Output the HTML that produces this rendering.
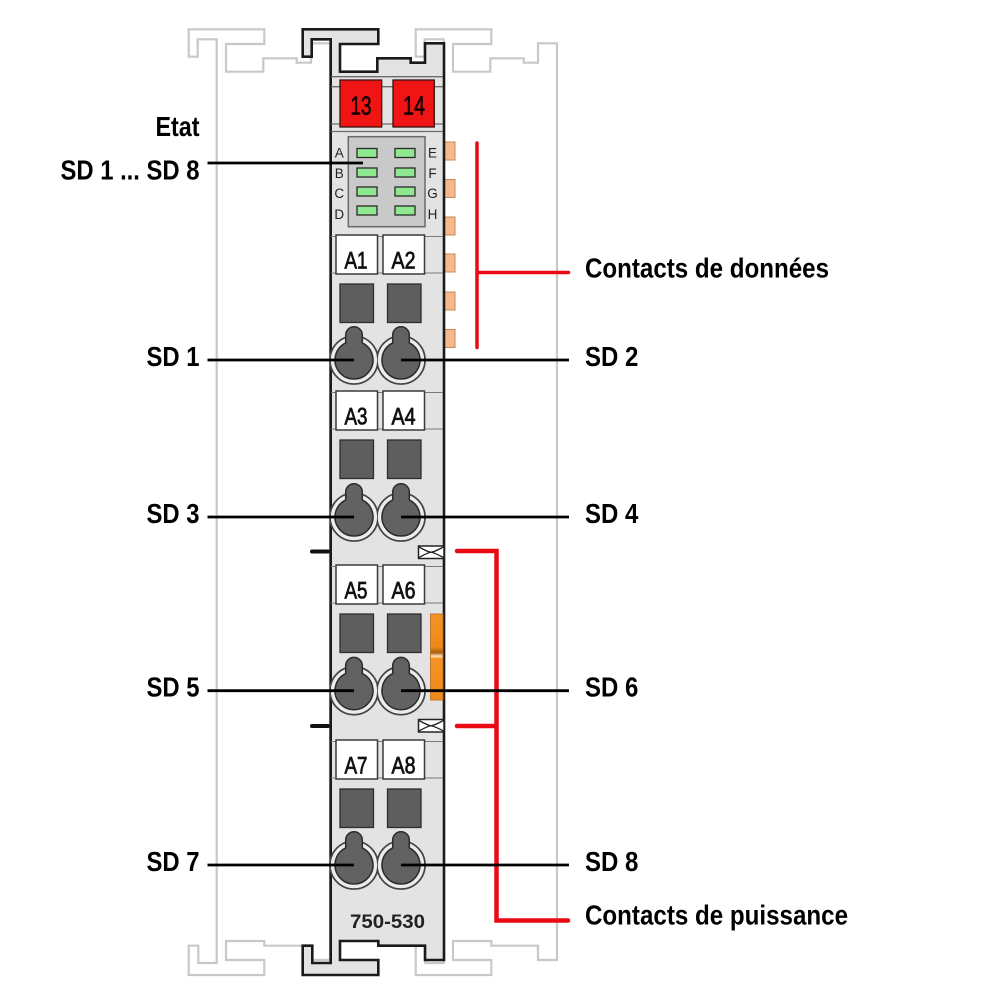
<!DOCTYPE html>
<html><head><meta charset="utf-8">
<style>html,body{margin:0;padding:0;background:#fff}svg{display:block}</style>
</head>
<body>
<svg width="1004" height="1004" viewBox="0 0 1004 1004" xmlns="http://www.w3.org/2000/svg">
<defs>
<path id="mod" d="M330.7,39.3 L311.7,39.3 L311.7,56.7 L302.7,56.7 L302.7,29.3 L378.3,29.3 L378.3,44 L340,44 L340,71.7 L377.3,71.7 L377.3,58.3 L410.7,58.3 L410.7,62.7 L425,62.7 L425,43.3 L444,43.3 L444,960 L425,960 L425,945.7 L378.3,945.7 L378.3,941 L340,941 L340,960 L378.3,960 L378.3,975 L302.7,975 L302.7,945.7 L312.3,945.7 L312.3,963 L330.7,963 Z"/>
<linearGradient id="og" x1="0" y1="0" x2="0" y2="1">
<stop offset="0" stop-color="#f39325"/>
<stop offset="0.38" stop-color="#ee8a1c"/>
<stop offset="0.45" stop-color="#a8600f"/>
<stop offset="0.49" stop-color="#fbe0b8"/>
<stop offset="0.52" stop-color="#f39325"/>
<stop offset="1" stop-color="#f08a1a"/>
</linearGradient>
</defs>

<!-- ghost neighbours -->
<use href="#mod" transform="translate(-114,0)" fill="none" stroke="#c8c8c8" stroke-width="2.2"/>
<use href="#mod" transform="translate(113,0)" fill="none" stroke="#c8c8c8" stroke-width="2.2"/>

<!-- data contact pads -->
<g fill="#f7b98c" stroke="#c58a5c" stroke-width="1">
<rect x="444.5" y="142" width="10.5" height="18"/>
<rect x="444.5" y="179.5" width="10.5" height="18"/>
<rect x="444.5" y="217" width="10.5" height="18"/>
<rect x="444.5" y="254" width="10.5" height="18"/>
<rect x="444.5" y="292" width="10.5" height="18"/>
<rect x="444.5" y="329.5" width="10.5" height="18"/>
</g>

<!-- module body -->
<use href="#mod" fill="#e3e3e3" stroke="#1a1a1a" stroke-width="2.6" stroke-linejoin="miter"/>

<!-- top terminal area lines -->
<g stroke="#6a6a6a" stroke-width="1.3">
<line x1="331" y1="76.7" x2="443" y2="76.7"/>
<line x1="331" y1="86.7" x2="443" y2="86.7"/>
<line x1="331" y1="124" x2="443" y2="124"/>
<line x1="331" y1="131.5" x2="443" y2="131.5"/>
</g>
<g fill="#f01414" stroke="#3a1010" stroke-width="1.3">
<rect x="340" y="80" width="41.7" height="47"/>
<rect x="393" y="80" width="41.3" height="47"/>
</g>
<g font-family="'Liberation Sans', sans-serif" font-size="26" fill="#1a0000" stroke="#1a0000" stroke-width="0.7" text-anchor="middle">
<text x="361" y="114.5" textLength="21" lengthAdjust="spacingAndGlyphs">13</text>
<text x="414" y="114.5" textLength="22" lengthAdjust="spacingAndGlyphs">14</text>
</g>

<!-- LED panel -->
<rect x="348.3" y="136.7" width="76.7" height="90" fill="#c9c9c9" stroke="#6a6a6a" stroke-width="1.5"/>
<g fill="#8fe88f" stroke="#2a2a2a" stroke-width="1.3">
<rect x="357" y="148.5" width="20" height="9"/>
<rect x="395" y="148.5" width="20" height="9"/>
<rect x="357" y="168" width="20" height="9"/>
<rect x="395" y="168" width="20" height="9"/>
<rect x="357" y="187" width="20" height="9"/>
<rect x="395" y="187" width="20" height="9"/>
<rect x="357" y="206" width="20" height="9"/>
<rect x="395" y="206" width="20" height="9"/>
</g>
<g font-family="'Liberation Sans', sans-serif" font-size="13.5" fill="#222" text-anchor="middle">
<text x="339.3" y="157.5">A</text>
<text x="339.3" y="178">B</text>
<text x="339.3" y="198">C</text>
<text x="339.3" y="219">D</text>
<text x="432.5" y="157.5">E</text>
<text x="432.5" y="178">F</text>
<text x="432.5" y="198">G</text>
<text x="432.5" y="219">H</text>
</g>

<!-- row separator lines -->
<g stroke="#7a7a7a" stroke-width="1.1">
<line x1="331" y1="236.5" x2="443" y2="236.5"/><line x1="331" y1="273" x2="443" y2="273"/>
<line x1="331" y1="392.5" x2="443" y2="392.5"/><line x1="331" y1="429" x2="443" y2="429"/>
<line x1="331" y1="566.5" x2="443" y2="566.5"/><line x1="331" y1="603" x2="443" y2="603"/>
<line x1="331" y1="741.5" x2="443" y2="741.5"/><line x1="331" y1="778" x2="443" y2="778"/>
</g>

<!-- label boxes -->
<g fill="#ffffff" stroke="#3a3a3a" stroke-width="1.5">
<rect x="336" y="235" width="41.5" height="39"/><rect x="383" y="235" width="41.5" height="39"/>
<rect x="336" y="391" width="41.5" height="39"/><rect x="383" y="391" width="41.5" height="39"/>
<rect x="336" y="565" width="41.5" height="39"/><rect x="383" y="565" width="41.5" height="39"/>
<rect x="336" y="740" width="41.5" height="39"/><rect x="383" y="740" width="41.5" height="39"/>
</g>
<g font-family="'Liberation Sans', sans-serif" font-size="24" fill="#111" text-anchor="middle" stroke="#111" stroke-width="0.8">
<text x="356" y="268.5" textLength="23" lengthAdjust="spacingAndGlyphs">A1</text>
<text x="403.5" y="268.5" textLength="24" lengthAdjust="spacingAndGlyphs">A2</text>
<text x="356" y="424.5" textLength="23" lengthAdjust="spacingAndGlyphs">A3</text>
<text x="403.5" y="424.5" textLength="24" lengthAdjust="spacingAndGlyphs">A4</text>
<text x="356" y="598.5" textLength="23" lengthAdjust="spacingAndGlyphs">A5</text>
<text x="403.5" y="598.5" textLength="24" lengthAdjust="spacingAndGlyphs">A6</text>
<text x="356" y="773.5" textLength="23" lengthAdjust="spacingAndGlyphs">A7</text>
<text x="403.5" y="773.5" textLength="24" lengthAdjust="spacingAndGlyphs">A8</text>
</g>

<!-- dark squares -->
<g fill="#5e5e5e" stroke="#2e2e2e" stroke-width="1.3">
<rect x="340" y="284" width="33.5" height="38.5"/><rect x="387.5" y="284" width="33.5" height="38.5"/>
<rect x="340" y="440" width="33.5" height="38.5"/><rect x="387.5" y="440" width="33.5" height="38.5"/>
<rect x="340" y="614" width="33.5" height="38.5"/><rect x="387.5" y="614" width="33.5" height="38.5"/>
<rect x="340" y="789" width="33.5" height="38.5"/><rect x="387.5" y="789" width="33.5" height="38.5"/>
</g>

<!-- rings -->
<g stroke="#444" stroke-width="1.8" fill="#ececec">
<circle cx="354" cy="360" r="24"/><circle cx="401" cy="360" r="24"/>
<circle cx="354" cy="517" r="24"/><circle cx="401" cy="517" r="24"/>
<circle cx="354" cy="690.7" r="24"/><circle cx="401" cy="690.7" r="24"/>
<circle cx="354" cy="865" r="24"/><circle cx="401" cy="865" r="24"/>
</g>
<g fill="#ececec">
<circle cx="354" cy="360" r="23.1"/><circle cx="401" cy="360" r="23.1"/>
<circle cx="354" cy="517" r="23.1"/><circle cx="401" cy="517" r="23.1"/>
<circle cx="354" cy="690.7" r="23.1"/><circle cx="401" cy="690.7" r="23.1"/>
<circle cx="354" cy="865" r="23.1"/><circle cx="401" cy="865" r="23.1"/>
</g>

<!-- keyholes -->
<g fill="#626262" stroke="#2b2b2b" stroke-width="1.5">
<path d="M345.7,335 A8.3,8.3 0 0 1 362.3,335 L362.3,342.9 A19,19 0 1 1 345.7,342.9 Z"/>
<path d="M392.7,335 A8.3,8.3 0 0 1 409.3,335 L409.3,342.9 A19,19 0 1 1 392.7,342.9 Z"/>
<path d="M345.7,492 A8.3,8.3 0 0 1 362.3,492 L362.3,499.9 A19,19 0 1 1 345.7,499.9 Z"/>
<path d="M392.7,492 A8.3,8.3 0 0 1 409.3,492 L409.3,499.9 A19,19 0 1 1 392.7,499.9 Z"/>
<path d="M345.7,665.7 A8.3,8.3 0 0 1 362.3,665.7 L362.3,673.6 A19,19 0 1 1 345.7,673.6 Z"/>
<path d="M392.7,665.7 A8.3,8.3 0 0 1 409.3,665.7 L409.3,673.6 A19,19 0 1 1 392.7,673.6 Z"/>
<path d="M345.7,840 A8.3,8.3 0 0 1 362.3,840 L362.3,847.9 A19,19 0 1 1 345.7,847.9 Z"/>
<path d="M392.7,840 A8.3,8.3 0 0 1 409.3,840 L409.3,847.9 A19,19 0 1 1 392.7,847.9 Z"/>
</g>

<!-- power contacts -->
<g fill="#fff" stroke="#222" stroke-width="1.5">
<rect x="418.5" y="546" width="25.5" height="12.5"/>
<rect x="418.5" y="719.5" width="25.5" height="12.5"/>
</g>
<g fill="none" stroke="#222" stroke-width="1.3">
<path d="M419,547 Q428,552 431,552.25 Q428,552.5 419,557.5 M443.5,547 Q434,552 431,552.25 Q434,552.5 443.5,557.5"/>
<path d="M419,720.5 Q428,725.5 431,725.75 Q428,726 419,731 M443.5,720.5 Q434,725.5 431,725.75 Q434,726 443.5,731"/>
</g>
<rect x="430.5" y="614" width="12.5" height="86" fill="url(#og)" stroke="#b86a10" stroke-width="0.8"/>

<!-- black dashes left -->
<g stroke="#111" stroke-width="4" stroke-linecap="round">
<line x1="312" y1="551.5" x2="328" y2="551.5"/>
<line x1="312" y1="726" x2="328" y2="726"/>
</g>

<!-- part number -->
<text x="350" y="928" font-family="'Liberation Sans', sans-serif" font-size="19" font-weight="bold" fill="#222" textLength="75" lengthAdjust="spacingAndGlyphs">750-530</text>

<!-- red brackets -->
<g fill="none" stroke="#ea0a14" stroke-linecap="round" stroke-linejoin="miter">
<path d="M477,143 V347.5 M477,272.5 H568.5" stroke-width="3.5"/>
<path d="M457,551 H496.5 V920.5 H568 M457,726 H496.5" stroke-width="4.5"/>
</g>

<!-- leader lines -->
<g stroke="#000" stroke-width="2.8">
<line x1="207.5" y1="163" x2="363" y2="163"/>
<line x1="207.5" y1="360" x2="354" y2="360"/><line x1="401" y1="360" x2="569" y2="360"/>
<line x1="207.5" y1="517" x2="354" y2="517"/><line x1="401" y1="517" x2="569" y2="517"/>
<line x1="207.5" y1="690.7" x2="354" y2="690.7"/><line x1="401" y1="690.7" x2="569" y2="690.7"/>
<line x1="207.5" y1="865" x2="354" y2="865"/><line x1="401" y1="865" x2="569" y2="865"/>
</g>

<!-- labels -->
<g font-family="'Liberation Sans', sans-serif" font-size="28" font-weight="bold" fill="#000">
<text x="199.5" y="136" text-anchor="end" textLength="44" lengthAdjust="spacingAndGlyphs">Etat</text>
<text x="199.5" y="179.5" text-anchor="end" textLength="139" lengthAdjust="spacingAndGlyphs">SD 1 ... SD 8</text>
<text x="199.5" y="366" text-anchor="end" textLength="53" lengthAdjust="spacingAndGlyphs">SD 1</text>
<text x="199.5" y="523" text-anchor="end" textLength="53" lengthAdjust="spacingAndGlyphs">SD 3</text>
<text x="199.5" y="696.7" text-anchor="end" textLength="53" lengthAdjust="spacingAndGlyphs">SD 5</text>
<text x="199.5" y="871" text-anchor="end" textLength="53" lengthAdjust="spacingAndGlyphs">SD 7</text>
<text x="585" y="366" textLength="53.3" lengthAdjust="spacingAndGlyphs">SD 2</text>
<text x="585" y="523" textLength="53.3" lengthAdjust="spacingAndGlyphs">SD 4</text>
<text x="585" y="696.7" textLength="53.3" lengthAdjust="spacingAndGlyphs">SD 6</text>
<text x="585" y="871" textLength="53.3" lengthAdjust="spacingAndGlyphs">SD 8</text>
<text x="585" y="277.5" textLength="244" lengthAdjust="spacingAndGlyphs">Contacts de données</text>
<text x="585" y="924.5" textLength="263" lengthAdjust="spacingAndGlyphs">Contacts de puissance</text>
</g>
</svg>
</body></html>
